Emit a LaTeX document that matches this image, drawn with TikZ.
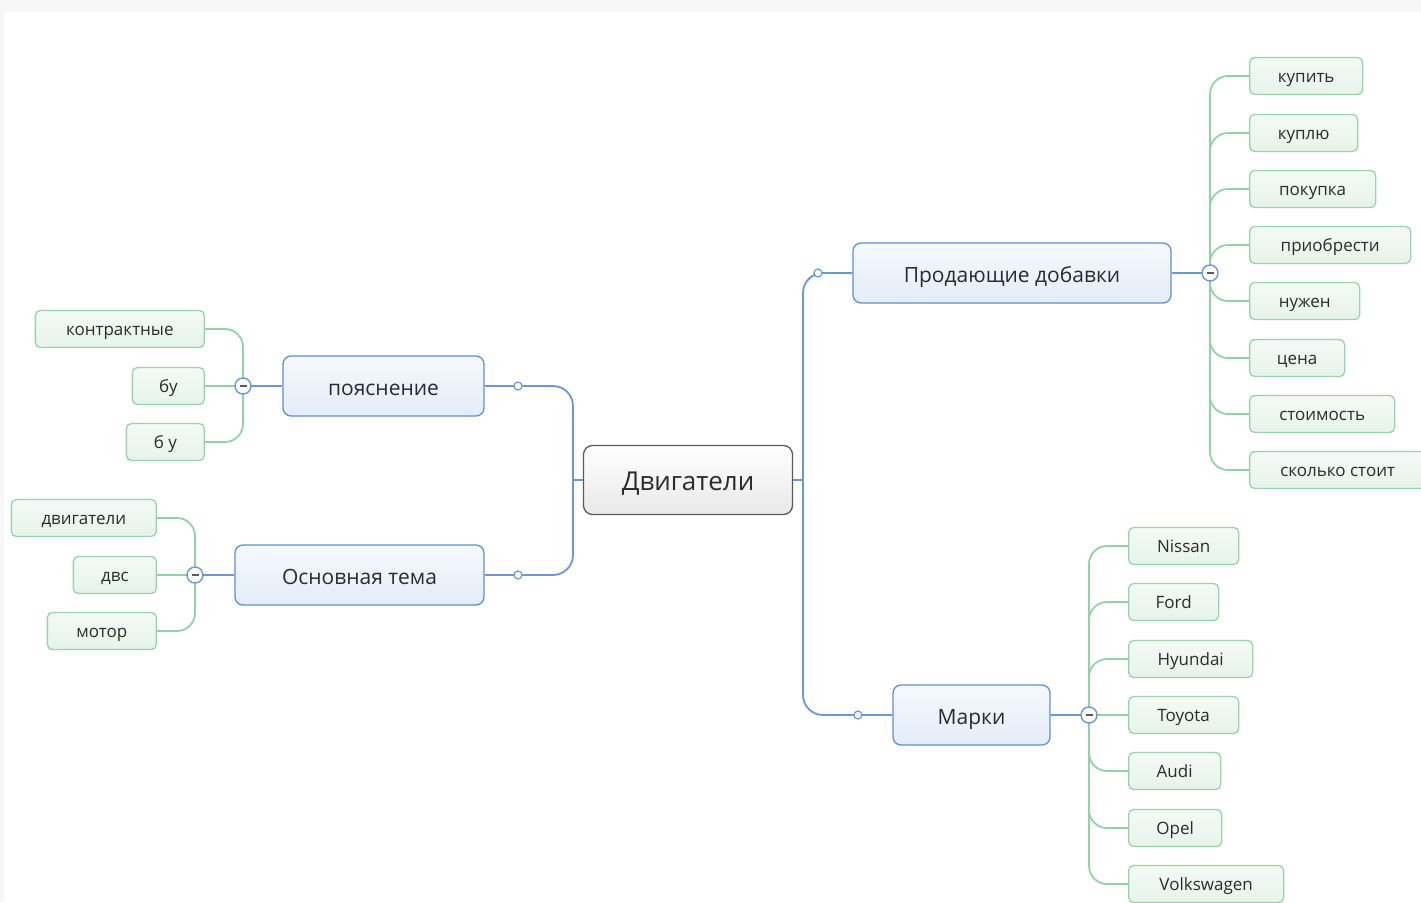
\documentclass[tikz,border=0pt]{standalone}
\usepackage{fontspec}
\setmainfont{Open Sans}
\definecolor{textgrey}{HTML}{2B2B2B}
\definecolor{centreborder}{HTML}{5A5A5A}
\definecolor{topicborder}{HTML}{5F8FD3}
\definecolor{topictop}{HTML}{F6F9FD}
\definecolor{topicbottom}{HTML}{E3ECF8}
\definecolor{leafborder}{HTML}{98D3AA}
\definecolor{leaftop}{HTML}{F4FAF6}
\definecolor{leafbottom}{HTML}{E6F3EA}
\definecolor{linkblue}{HTML}{6A97D6}
\definecolor{linkgreen}{HTML}{92D2A8}
\definecolor{bandgrey}{HTML}{F7F7F7}

\begin{document}
\begin{tikzpicture}[x=1pt, y=-1pt,
    centre/.style ={draw=centreborder, line width=1.3pt, rounded corners=9pt,
      top color=white, bottom color=black!9, text=textgrey,
      text height=23pt, text depth=2pt,
      minimum width=209pt, minimum height=69pt, font=\fontsize{26}{30}\selectfont},
    topic/.style ={draw=topicborder, line width=1.3pt, rounded corners=8pt,
      top color=topictop, bottom color=topicbottom, text=textgrey,
      text height=21pt, text depth=2pt,
      minimum height=60pt, font=\fontsize{21}{25}\selectfont},
    leaf/.style ={draw=leafborder, line width=1.3pt, rounded corners=5pt,
      top color=leaftop, bottom color=leafbottom, text=textgrey, inner xsep=0pt,
      text height=14pt, text depth=2pt,
      minimum height=37pt, font=\fontsize{17}{20}\selectfont},
    mainline/.style ={draw=linkblue, line width=1.8pt, rounded corners=20pt},
    leafline/.style ={draw=linkgreen, line width=1.8pt, rounded corners=18pt},
    knob/.style ={circle, draw=linkblue, fill=white, line width=1.2pt,
      minimum size=8pt, inner sep=0pt},
    collapse/.style ={circle, draw=linkblue, fill=white, line width=1.4pt,
      minimum size=16pt, inner sep=0pt,
      path picture={\draw[line width=1.8pt, black!65]
        ([xshift=-3.5pt]path picture bounding box.center) --
        ([xshift=3.5pt]path picture bounding box.center);}}]
   \useasboundingbox (0,0) rectangle (1421,902);
   \fill[bandgrey] (0,0) rectangle (1421,12);
   \fill[bandgrey] (0,0) rectangle (4,902);

   % centre and main topics
   \node[centre] (dvig) at (688,480) {Двигатели};
   \node[topic, minimum width=318pt] (prod) at (1012,273) {Продающие добавки};
   \node[topic, minimum width=157pt] (marki) at (971.5,715) {Марки};
   \node[topic, minimum width=201pt] (poyas) at (383.5,386) {пояснение};
   \node[topic, minimum width=249pt] (osn) at (359.5,575) {Основная тема};

   \coordinate (jr) at (803,480);
   \coordinate (jl) at (573,480);
   \draw[mainline] (dvig.east) -- (jr);
   \draw[mainline] (dvig.west) -- (jl);
   \draw[mainline] (jr) |- (prod.west);
   \draw[mainline] (jr) |- (marki.west);
   \draw[mainline] (jl) |- (poyas.east);
   \draw[mainline] (jl) |- (osn.east);

   \node[knob] (prod-k) at (818,273) {};
   \node[knob] (marki-k) at (858,715) {};
   \node[knob] (poyas-k) at (518,386) {};
   \node[knob] (osn-k) at (518,575) {};

   % Продающие добавки
   \node[leaf, anchor=west, minimum width=113pt] (kupit) at (1249,76) {купить};
   \node[leaf, anchor=west, minimum width=108pt] (kuplyu) at (1249,133) {куплю};
   \node[leaf, anchor=west, minimum width=126pt] (pokupka) at (1249,189) {покупка};
   \node[leaf, anchor=west, minimum width=161pt] (priobr) at (1249,245) {приобрести};
   \node[leaf, anchor=west, minimum width=110pt] (nuzhen) at (1249,301) {нужен};
   \node[leaf, anchor=west, minimum width=95pt] (tsena) at (1249,358) {цена};
   \node[leaf, anchor=west, minimum width=145pt] (stoim) at (1249,414) {стоимость};
   \node[leaf, anchor=west, minimum width=176pt] (skolko) at (1249,470) {сколько стоит};
   \coordinate (prod-c) at (1210,273);
   \draw[mainline] (prod.east) -- (prod-c);
   \draw[leafline] (prod-c) |- (kupit.west);
   \draw[leafline] (prod-c) |- (kuplyu.west);
   \draw[leafline] (prod-c) |- (pokupka.west);
   \draw[leafline] (prod-c) |- (priobr.west);
   \draw[leafline] (prod-c) |- (nuzhen.west);
   \draw[leafline] (prod-c) |- (tsena.west);
   \draw[leafline] (prod-c) |- (stoim.west);
   \draw[leafline] (prod-c) |- (skolko.west);
   \node[collapse] at (prod-c) {};

   % Марки
   \node[leaf, anchor=west, minimum width=110pt] (nissan) at (1128,546) {Nissan};
   \node[leaf, anchor=west, minimum width=90pt] (ford) at (1128,602) {Ford};
   \node[leaf, anchor=west, minimum width=124pt] (hyundai) at (1128,659) {Hyundai};
   \node[leaf, anchor=west, minimum width=110pt] (toyota) at (1128,715) {Toyota};
   \node[leaf, anchor=west, minimum width=92pt] (audi) at (1128,771) {Audi};
   \node[leaf, anchor=west, minimum width=93pt] (opel) at (1128,828) {Opel};
   \node[leaf, anchor=west, minimum width=155pt] (vw) at (1128,884) {Volkswagen};
   \coordinate (marki-c) at (1089,715);
   \draw[mainline] (marki.east) -- (marki-c);
   \draw[leafline] (marki-c) |- (nissan.west);
   \draw[leafline] (marki-c) |- (ford.west);
   \draw[leafline] (marki-c) |- (hyundai.west);
   \draw[leafline] (marki-c) -- (toyota.west);
   \draw[leafline] (marki-c) |- (audi.west);
   \draw[leafline] (marki-c) |- (opel.west);
   \draw[leafline] (marki-c) |- (vw.west);
   \node[collapse] at (marki-c) {};

   % пояснение
   \node[leaf, anchor=east, minimum width=169pt] (kontr) at (205,329) {контрактные};
   \node[leaf, anchor=east, minimum width=72pt] (bu) at (205,386) {бу};
   \node[leaf, anchor=east, minimum width=78pt] (b-u) at (205,442) {б у};
   \coordinate (poyas-c) at (243,386);
   \draw[mainline] (poyas.west) -- (poyas-c);
   \draw[leafline] (poyas-c) |- (kontr.east);
   \draw[leafline] (poyas-c) -- (bu.east);
   \draw[leafline] (poyas-c) |- (b-u.east);
   \node[collapse] at (poyas-c) {};

   % Основная тема
   \node[leaf, anchor=east, minimum width=145pt] (dvigateli) at (157,518) {двигатели};
   \node[leaf, anchor=east, minimum width=83pt] (dvs) at (157,575) {двс};
   \node[leaf, anchor=east, minimum width=109pt] (motor) at (157,631) {мотор};
   \coordinate (osn-c) at (195,575);
   \draw[mainline] (osn.west) -- (osn-c);
   \draw[leafline] (osn-c) |- (dvigateli.east);
   \draw[leafline] (osn-c) -- (dvs.east);
   \draw[leafline] (osn-c) |- (motor.east);
   \node[collapse] at (osn-c) {};
 \end{tikzpicture}
\end{document}
